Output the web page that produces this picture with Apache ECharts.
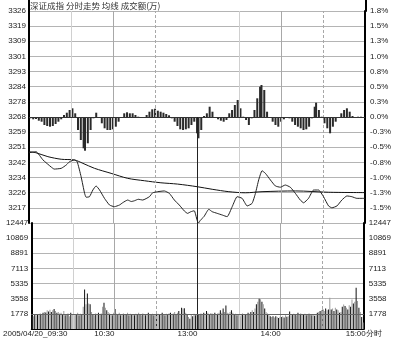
<!DOCTYPE html>
<html><head><meta charset="utf-8">
<script src="https://cdn.jsdelivr.net/npm/echarts@6/dist/echarts.min.js"></script>
<style>html,body{margin:0;padding:0;background:#fff}#c{width:394px;height:338px}</style>
</head><body><div id="c"></div>
<script>
const titleText = '深证成指 分时走势 均线 成交额(万)';
const prevClose = 3268.6;
// tick labels, top to bottom
const priceLabels = ['3326','3319','3309','3301','3293','3284','3278','3268','3259','3251','3242','3234','3226','3217',''];
const pctLabels = ['1.8%','1.5%','1.3%','1.0%','0.8%','0.5%','0.3%','0.0%','-0.3%','-0.5%','-0.8%','-1.0%','-1.3%','-1.5%',''];
const volLabels = ['12447','10869','8891','7113','5335','3558','1778',''];
const timeLabels = {0:'2005/04/20_09:30', 60:'10:30', 120:'13:00', 180:'14:00', 240:'15:00分时'};

// [minute from 09:30 (trading time), price]
const priceLine = [[0,3249.3],[5,3249.9],[10,3245.4],[16,3241.5],[18,3240.5],[23,3240.9],[26.6,3242.7],[29,3244.5],[32.5,3245.4],[34.4,3244.5],[37.2,3236.4],[39.7,3227.4],[40.8,3225.3],[43.2,3225.6],[45.6,3229.2],[47.9,3231.4],[50.4,3229.2],[53.9,3224.7],[57.5,3221.1],[61,3220.2],[64.6,3221.1],[67,3222.4],[70.5,3223.8],[73,3223.0],[75.3,3223.4],[78,3224.2],[81.2,3223.8],[86,3225.6],[88.3,3227.7],[91.9,3228.3],[96.6,3228.7],[100.2,3227.4],[103.8,3223.8],[107.3,3221.1],[110.9,3217.9],[113.2,3216.6],[115.6,3217.5],[118,3218.0],[120,3213.0],[121,3211.4],[122.5,3213.0],[124.9,3214.8],[128.4,3218.8],[130.8,3217.5],[134.4,3216.6],[138,3215.7],[141.5,3214.8],[145.1,3220.2],[148.6,3225.6],[152.2,3224.7],[155.8,3220.6],[159.3,3222.0],[161.7,3227.4],[164,3234.6],[166.4,3239.6],[168.8,3238.2],[172.4,3234.6],[175.9,3231.4],[179.5,3230.7],[183,3231.9],[186.6,3230.7],[190.2,3227.4],[193.7,3223.8],[196.1,3222.3],[199.6,3224.7],[203.2,3229.2],[206.8,3229.2],[210.3,3225.6],[213.9,3220.6],[216.3,3219.6],[219.9,3220.6],[223.4,3223.8],[227,3226.0],[230.5,3225.6],[234.1,3224.7],[237.7,3224.7],[240,3224.7]];
const avgLine = [[0,3249.9],[5,3249.3],[13.5,3247.2],[23,3245.8],[32.5,3245.4],[38.5,3243.6],[46.8,3240.9],[58.6,3238.2],[70.5,3235.5],[82.4,3234.2],[94.2,3233.1],[106.1,3232.4],[120,3231.0],[130.8,3229.6],[142.7,3228.3],[154.5,3227.7],[166.4,3228.3],[190.2,3228.7],[213.9,3228.0],[240,3227.8]];
// buy/sell strength bars [minute, strength]
const strength = [[1,-1.3],[3,-2.3],[5,-2],[7,-3.7],[9,-4.7],[11,-8],[13,-9],[15,-9.7],[17,-9],[19,-7],[21,-4.7],[23,-2.3],[25,2],[27,4.3],[29,7],[31,8.7],[33,3.7],[35,-13],[37,-23],[39,-31.3],[40,-33.7],[42,-26.3],[44,-13],[46,-1.3],[48,4.3],[50,-0.7],[52,-6.3],[54,-11.3],[56,-13],[58,-13],[60,-12.3],[62,-9.7],[64,-4.7],[66,-0.7],[68,3.7],[70,4.7],[72,3.7],[74,3.7],[76,2],[78,0.3],[80,-0.3],[82,-0.3],[84,2],[86,5.3],[88,7.7],[90,8.3],[92,6.3],[94,5.3],[96,4.3],[98,3],[100,1.7],[102,-1.3],[104,-4.7],[106,-9],[108,-12.3],[110,-13],[112,-12.3],[114,-11.3],[116,-8],[118,-4.7],[120,-16.3],
[121,-21.3],[123,-13],[125,1],[127,3.7],[129,10.3],[131,5.3],[133,-0.3],[135,-2.3],[137,-3.7],[139,-4.7],[141,-3],[143,3.7],[145,7],[147,12],[149,17],[151,8.7],[153,0.3],[155,-3],[157,-8],[159,-1.3],[161,7],[163,18.7],[165,30.3],[166,32],[168,27],[170,5.3],[172,-0.7],[174,-4.7],[176,-8],[178,-9.7],[180,-4.7],[182,-2.3],[184,-0.7],[186,-1.3],[188,-4.7],[190,-8],[192,-9.7],[194,-11.3],[196,-13],[198,-12.3],[200,-9.7],[202,-1.3],[204,10.3],[205,14.3],[207,7],[209,0.3],[211,-6.3],[213,-11.3],[215,-16.3],[217,-9.7],[219,-4.7],[221,-0.7],[223,3.7],[225,7],[227,8.7],[229,5.3],[231,1],[233,-0.3],[235,0.3],[237,0.3],[239,-0.3]];
// per-minute turnover (10k)
const volume = [
1650,1500,1700,1600,1750,1650,1800,1700,1900,2000,
1950,2200,2050,2250,2000,2200,2350,2100,1900,2000,
1800,1900,1750,2100,1600,1700,1800,1500,1900,1650,
1750,1600,1700,1900,1600,1800,1750,2600,4640,2900,
4170,3000,2900,2000,1700,1600,1800,1700,1900,1750,
1800,2600,3080,2500,2200,2000,1800,1700,1600,1900,
2350,1800,1700,1900,1600,1750,1800,1650,1700,1900,
1600,1800,1750,1700,1600,1800,1650,1900,1700,1600,
1800,1700,1600,1750,1900,1650,1700,1800,1600,1750,
1700,1800,1650,1700,1900,1750,1600,1800,1700,1850,
1900,1750,1800,2000,1700,1900,2100,1800,2500,2400,
2450,1900,1700,1400,1200,1700,1500,1800,1600,1700,
1700,1750,1800,1700,1900,1800,2100,1900,1700,1850,
1800,1700,1900,1750,1800,1900,2200,1900,2400,2000,
2750,1900,1800,2000,2200,1900,1700,1800,1600,1750,
1500,1700,1800,1600,1700,1750,1900,1800,2000,2200,
2000,2400,2900,3200,3560,3500,3200,2900,2400,2000,
1800,1700,1500,1400,1500,1350,1500,1400,1300,1450,
1400,1500,1350,1600,1450,1500,2050,1600,1700,1800,
1750,1600,1900,1700,1800,1650,1700,1800,1600,1700,
1800,1750,1600,1700,1550,1600,1900,2000,2100,2200,
2300,2100,2400,2200,2300,3660,2300,2400,2100,2500,
2300,2200,1900,2000,2600,2880,2700,2500,2300,2800,
2600,3470,3000,3200,4830,3300,2500,2000,1400,750];

const toPct = p => (p / prevClose - 1) * 100;
const font = 'Liberation Sans, Arial, sans-serif';
const lblStyle = {fontSize: 8, fontFamily: font, color: '#222'};

const chart = echarts.init(document.getElementById('c'), null, {renderer: 'canvas'});
const vLines = [
  {xAxis: 30, lineStyle: {color: '#d0d0d0', type: 'solid'}},
  {xAxis: 60, lineStyle: {color: '#a8a8a8', type: 'solid'}},
  {xAxis: 90, lineStyle: {color: '#a8a8a8', type: [3, 2]}},
  {xAxis: 150, lineStyle: {color: '#d0d0d0', type: 'solid'}},
  {xAxis: 180, lineStyle: {color: '#a8a8a8', type: 'solid'}},
  {xAxis: 210, lineStyle: {color: '#a8a8a8', type: [3, 2]}}
];
chart.setOption({
  animation: false,
  title: {text: titleText, left: 30, top: 2, padding: 0,
    textStyle: {fontSize: 8.5, fontWeight: 'normal', color: '#333', fontFamily: 'Noto Sans CJK SC'}},
  grid: [
    {left: 29, right: 28, top: 11, height: 212},
    {left: 29, right: 28, top: 223, height: 106},
    {left: 29, right: 28, top: 0, height: 11}
  ],
  xAxis: [
    {gridIndex: 0, type: 'value', min: 0, max: 240, interval: 30, axisLine: {show: false}, axisTick: {show: false}, axisLabel: {show: false}, splitLine: {show: false}},
    {gridIndex: 1, type: 'value', min: 0, max: 240, interval: 30,
      axisLine: {show: true, onZero: false, lineStyle: {color: '#000', width: 1}}, axisTick: {show: false}, splitLine: {show: false},
      axisLabel: Object.assign({}, lblStyle, {margin: 1, showMinLabel: true, showMaxLabel: true,
        formatter: v => {
          const t = timeLabels[v];
          if (!t) return '';
          if (v === 0) return '{d|' + t + '}';
          if (v === 240) return '{c|' + t + '}';
          return '{r|' + t + '}';
        },
        rich: {
          d: {fontSize: 8, fontFamily: font, color: '#222', padding: [0, 0, 0, 8]},
          r: {fontSize: 8, fontFamily: font, color: '#222', padding: [0, 20, 0, 0]},
          c: {fontSize: 8, fontFamily: font, color: '#222'}
        }})},
    {gridIndex: 2, type: 'value', min: 0, max: 1, show: false}
  ],
  yAxis: [
    {gridIndex: 0, type: 'value', min: -1.75, max: 1.75, interval: 0.25, position: 'left',
      axisLine: {show: true, lineStyle: {color: '#000', width: 2}}, axisTick: {show: false},
      splitLine: {show: true, lineStyle: {color: '#b4b4b4', width: 1}},
      axisLabel: Object.assign({}, lblStyle, {margin: 3, formatter: v => priceLabels[Math.round((1.75 - v) / 0.25)]})},
    {gridIndex: 0, type: 'value', min: -1.75, max: 1.75, interval: 0.25, position: 'right',
      axisLine: {show: true, lineStyle: {color: '#000', width: 2}}, axisTick: {show: false}, splitLine: {show: false},
      axisLabel: Object.assign({}, lblStyle, {margin: 5, formatter: v => pctLabels[Math.round((1.75 - v) / 0.25)]})},
    {gridIndex: 0, type: 'value', min: -106, max: 106, show: false},
    {gridIndex: 1, type: 'value', min: 0, max: 12446, interval: 1778, position: 'left',
      axisLine: {show: true, lineStyle: {color: '#000', width: 2}}, axisTick: {show: false},
      splitLine: {show: true, lineStyle: {color: '#b4b4b4', width: 1}},
      axisLabel: Object.assign({}, lblStyle, {margin: 3, formatter: v => volLabels[Math.round((12446 - v) / 1778)]})},
    {gridIndex: 1, type: 'value', min: 0, max: 12446, interval: 1778, position: 'right',
      axisLine: {show: true, lineStyle: {color: '#000', width: 2}}, axisTick: {show: false}, splitLine: {show: false},
      axisLabel: Object.assign({}, lblStyle, {margin: 5, formatter: v => volLabels[Math.round((12446 - v) / 1778)]})},
    {gridIndex: 2, type: 'value', min: 0, max: 1, position: 'left', axisLine: {show: true, lineStyle: {color: '#000', width: 2}}, axisTick: {show: false}, axisLabel: {show: false}, splitLine: {show: false}},
    {gridIndex: 2, type: 'value', min: 0, max: 1, position: 'right', axisLine: {show: true, lineStyle: {color: '#000', width: 2}}, axisTick: {show: false}, axisLabel: {show: false}, splitLine: {show: false}}
  ],
  series: [
    {type: 'line', xAxisIndex: 0, yAxisIndex: 0, data: avgLine.map(d => [d[0], toPct(d[1])]), symbol: 'none', smooth: 0.3,
      lineStyle: {color: '#111', width: 1}, z: 4,
      markLine: {silent: true, symbol: 'none', label: {show: false},
        data: vLines.concat([
          {yAxis: 0, lineStyle: {color: '#333', width: 1, type: 'solid'}},
          [{coord: [120, 0], lineStyle: {color: '#222', width: 1, type: 'solid'}}, {coord: [120, -1.75]}]
        ])}},
    {type: 'line', xAxisIndex: 0, yAxisIndex: 0, data: priceLine.map(d => [d[0], toPct(d[1])]), symbol: 'none', smooth: 0.15,
      lineStyle: {color: '#222', width: 1}, z: 5},
    {type: 'bar', xAxisIndex: 0, yAxisIndex: 2, data: strength, barWidth: 2, itemStyle: {color: '#2a2a2a'}, z: 3},
    {type: 'bar', xAxisIndex: 1, yAxisIndex: 3, data: volume.map((v, i) => [i + 0.5, v]), barWidth: 1,
      itemStyle: {color: p => (p.dataIndex % 2 ? '#9a9a9a' : '#111')},
      markLine: {silent: true, symbol: 'none', label: {show: false},
        data: vLines.concat([
          {xAxis: 120, lineStyle: {color: '#222', width: 1, type: 'solid'}},
          {yAxis: 1778, lineStyle: {color: '#666', width: 1, type: 'solid'}}
        ])}}
  ]
});
</script>
</body></html>
